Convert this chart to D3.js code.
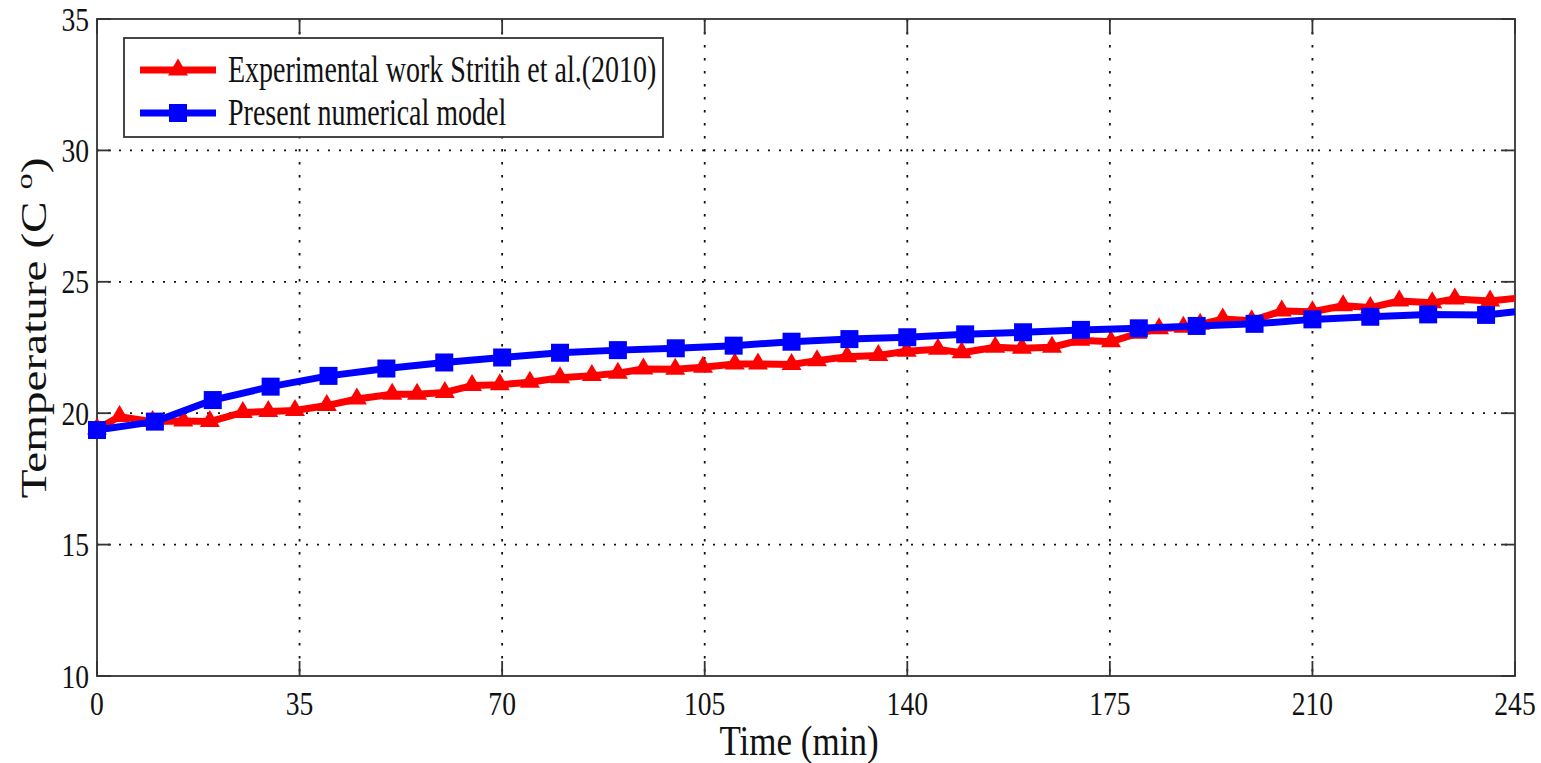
<!DOCTYPE html>
<html>
<head>
<meta charset="utf-8">
<script src="https://cdn.jsdelivr.net/npm/d3@7"></script>
<style>
  html, body { margin: 0; padding: 0; background: #fff; }
  svg { display: block; }
  text { font-family: "Liberation Serif", "Times New Roman", serif; fill: #111; }
</style>
</head>
<body>
<svg id="chart" width="1541" height="763"></svg>
<script>
// Measured temperature (Stritih et al. 2010)
const expTime = [0, 3.9, 9.6, 14.9, 19.5, 25.2, 29.6, 34.2, 39.7, 44.9, 51.0, 55.3, 60.1, 64.8, 69.6,
  74.8, 80.0, 85.5, 90.0, 94.4, 99.9, 104.7, 110.2, 114.2, 120.0, 124.4, 129.6, 135.0, 139.9, 145.3,
  149.4, 155.2, 159.8, 165.0, 169.9, 175.2, 179.8, 183.5, 187.7, 190.6, 194.5, 199.5, 204.7, 210.0,
  215.3, 220.0, 225.0, 230.7, 234.6, 240.7, 245];
const expTemp = [19.40, 19.87, 19.68, 19.70, 19.68, 20.03, 20.06, 20.10, 20.29, 20.54, 20.72, 20.72, 20.79, 21.05, 21.08,
  21.18, 21.35, 21.43, 21.52, 21.68, 21.67, 21.75, 21.87, 21.87, 21.85, 22.00, 22.15, 22.20, 22.36, 22.43,
  22.30, 22.51, 22.47, 22.51, 22.78, 22.72, 23.04, 23.21, 23.27, 23.38, 23.58, 23.52, 23.89, 23.86,
  24.09, 24.02, 24.27, 24.20, 24.35, 24.27, 24.37];

// Numerical model
const numTime = [0, 10, 20, 30, 40, 50, 60, 70, 80, 90, 100, 110, 120, 130, 140, 150, 160, 170, 180,
  190, 200, 210, 220, 230, 240, 245];
const numTemp = [19.36, 19.68, 20.50, 21.01, 21.42, 21.70, 21.93, 22.12, 22.30, 22.40, 22.47, 22.57, 22.72,
  22.82, 22.89, 23.00, 23.08, 23.17, 23.23, 23.32, 23.40, 23.57, 23.67, 23.76, 23.74, 23.86];

const xTicks = [0, 35, 70, 105, 140, 175, 210, 245];
const yTicks = [10, 15, 20, 25, 30, 35];

const seriesNames = ["Experimental work Stritih et al.(2010)", "Present numerical model"];
const seriesColors = ["#ff0000", "#0000ff"];

const plot = { left: 97, right: 1515, top: 19, bottom: 676 };
const SY = 1.22; // vertical stretch of text

const svg = d3.select("#chart");
const x = d3.scaleLinear().domain([0, 245]).range([plot.left, plot.right]);
const y = d3.scaleLinear().domain([10, 35]).range([plot.bottom, plot.top]);

// grid
const grid = svg.append("g").attr("stroke", "#111").attr("stroke-width", 1.8);
grid.selectAll("line.v").data(xTicks.slice(1, -1)).join("line")
  .attr("x1", d => x(d)).attr("x2", d => x(d))
  .attr("y1", plot.top).attr("y2", plot.bottom)
  .attr("stroke-dasharray", "2.5,10.5");
grid.selectAll("line.h").data(yTicks.slice(1, -1)).join("line")
  .attr("x1", plot.left).attr("x2", plot.right)
  .attr("y1", d => y(d)).attr("y2", d => y(d))
  .attr("stroke-dasharray", "2,9");

// axes with inward ticks on all four sides
const tickLenX = 15, tickLenY = 14;
const axisG = svg.append("g").attr("stroke", "#333").attr("stroke-width", 1.8).attr("fill", "none");
axisG.append("rect").attr("x", plot.left).attr("y", plot.top)
  .attr("width", plot.right - plot.left).attr("height", plot.bottom - plot.top);
xTicks.forEach(t => {
  axisG.append("line").attr("x1", x(t)).attr("x2", x(t)).attr("y1", plot.bottom).attr("y2", plot.bottom - tickLenX);
  axisG.append("line").attr("x1", x(t)).attr("x2", x(t)).attr("y1", plot.top).attr("y2", plot.top + tickLenX);
});
yTicks.forEach(t => {
  axisG.append("line").attr("x1", plot.left).attr("x2", plot.left + tickLenY).attr("y1", y(t)).attr("y2", y(t));
  axisG.append("line").attr("x1", plot.right).attr("x2", plot.right - tickLenY).attr("y1", y(t)).attr("y2", y(t));
});

// tick labels
svg.append("g").selectAll("text").data(xTicks).join("text")
  .attr("transform", d => `translate(${x(d)},715) scale(1,${SY})`)
  .attr("text-anchor", "middle").attr("font-size", 27.6)
  .text(d => d);
svg.append("g").selectAll("text").data(yTicks).join("text")
  .attr("transform", d => `translate(89,${y(d) + 11.5}) scale(1,${SY})`)
  .attr("text-anchor", "end").attr("font-size", 27.6)
  .text(d => d);

// axis titles
svg.append("text")
  .attr("transform", `translate(799,755) scale(1,${SY})`)
  .attr("text-anchor", "middle").attr("font-size", 35)
  .text("Time (min)");
const yt = svg.append("text")
  .attr("transform", `translate(46,328) rotate(-90) scale(1.35,1)`)
  .attr("text-anchor", "middle").attr("font-size", 35);
yt.append("tspan").text("Temperature (C ");
yt.append("tspan").attr("font-size", 24).attr("dy", -14).text("o");
yt.append("tspan").attr("dy", 14).text(")");

// series
const line = d3.line().x(d => x(d[0])).y(d => y(d[1]));
const expPts = d3.zip(expTime, expTemp);
const numPts = d3.zip(numTime, numTemp);

const triPath = "M0,-11.5 L10,5.5 L-10,5.5 Z";
const sqHalf = 9;

function drawSeries(pts, color, marker) {
  svg.append("path").datum(pts).attr("d", line)
    .attr("fill", "none").attr("stroke", color).attr("stroke-width", 7)
    .attr("stroke-linejoin", "round").attr("stroke-linecap", "butt");
  const g = svg.append("g").attr("fill", color);
  const mpts = pts.slice(0, -1);
  if (marker === "tri") {
    g.selectAll("path").data(mpts).join("path")
      .attr("transform", d => `translate(${x(d[0])},${y(d[1])})`).attr("d", triPath);
  } else {
    g.selectAll("rect").data(mpts).join("rect")
      .attr("x", d => x(d[0]) - sqHalf).attr("y", d => y(d[1]) - sqHalf)
      .attr("width", sqHalf * 2).attr("height", sqHalf * 2);
  }
}
drawSeries(expPts, seriesColors[0], "tri");
drawSeries(numPts, seriesColors[1], "sq");

// legend
const lg = svg.append("g");
lg.append("rect").attr("x", 124).attr("y", 38).attr("width", 539).attr("height", 99)
  .attr("fill", "#fff").attr("stroke", "#333").attr("stroke-width", 1.8);
const rows = [70, 113];
rows.forEach((ry, i) => {
  lg.append("line").attr("x1", 140).attr("x2", 216).attr("y1", ry).attr("y2", ry)
    .attr("stroke", seriesColors[i]).attr("stroke-width", 7);
  if (i === 0) {
    lg.append("path").attr("transform", `translate(178,${ry})`).attr("d", triPath).attr("fill", seriesColors[i]);
  } else {
    lg.append("rect").attr("x", 178 - sqHalf).attr("y", ry - sqHalf)
      .attr("width", sqHalf * 2).attr("height", sqHalf * 2).attr("fill", seriesColors[i]);
  }
  lg.append("text").attr("transform", `translate(228,${ry + 12}) scale(1,1.38)`)
    .attr("font-size", 28).text(seriesNames[i]);
});
</script>
</body>
</html>
